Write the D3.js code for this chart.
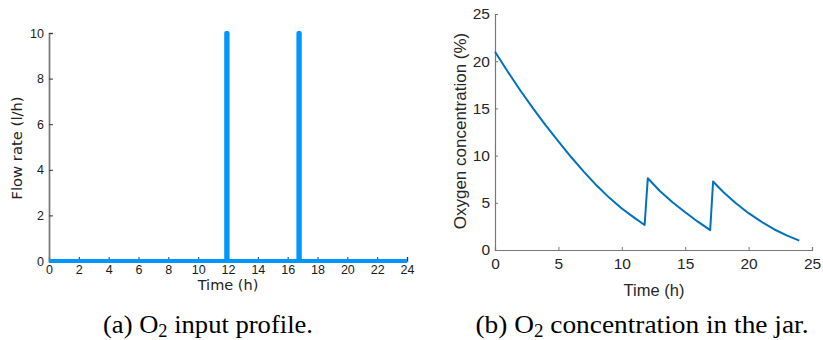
<!DOCTYPE html>
<html>
<head>
<meta charset="utf-8">
<script src="https://cdn.jsdelivr.net/npm/d3@7"></script>
<style>
	body { margin: 0; background: #fff; }
	svg { display: block; }
</style>
</head>
<body>
<div id="chart"></div>
<script>
(function() {
	"use strict";

	// (a) O2 input profile : flow rate (l/h) against time (h)
	var flowTime  = [0, 11.88, 11.88, 11.97, 11.97, 16.72, 16.72, 16.81, 16.81, 24];
	var flowRate  = [0, 0,     10,    10,    0,     0,     10,    10,    0,     0];
	var flowXTicks = [0, 2, 4, 6, 8, 10, 12, 14, 16, 18, 20, 22, 24];
	var flowYTicks = [0, 2, 4, 6, 8, 10];

	// (b) O2 concentration in the jar (%) against time (h)
	var o2Time = [0, 1, 2, 3, 4, 5, 6, 7, 8, 9, 10, 11, 11.8,
		12.05, 13, 14, 15, 16, 16.97,
		17.2, 18, 19, 20, 21, 22, 23, 24];
	var o2Conc = [21.0, 18.9, 16.9, 15.0, 13.2, 11.5, 9.85, 8.3, 6.85, 5.55, 4.4, 3.4, 2.65,
		7.6, 6.25, 5.05, 4.0, 3.0, 2.1,
		7.25, 6.15, 4.95, 3.9, 3.0, 2.2, 1.55, 1.0];
	var o2XTicks = [0, 5, 10, 15, 20, 25];
	var o2YTicks = [0, 5, 10, 15, 20, 25];

	var w = 823;
	var h = 340;

	var svg = d3.select("#chart").append("svg")
		.attr("width", w)
		.attr("height", h);

	/* ---------- left panel ---------- */
	var xa = d3.scaleLinear().domain([0, 24]).range([49, 407]);
	var ya = d3.scaleLinear().domain([0, 10]).range([261, 33]);

	var left = svg.append("g")
		.attr("font-family", "'DejaVu Sans', sans-serif")
		.attr("fill", "#222");

	var lxAxis = left.append("g")
		.attr("transform", "translate(0," + ya(0) + ")")
		.call(d3.axisBottom(xa).tickValues(flowXTicks).tickSize(-4).tickPadding(4));
	lxAxis.select(".domain").attr("stroke", "#666").attr("stroke-width", 1.5);
	lxAxis.selectAll(".tick line").attr("stroke", "#333");
	lxAxis.selectAll("text").attr("font-size", 12.5).attr("fill", "#1a1a1a");

	var lyAxis = left.append("g")
		.attr("transform", "translate(" + xa(0) + ",0)")
		.call(d3.axisLeft(ya).tickValues(flowYTicks).tickSize(-4).tickPadding(5));
	lyAxis.select(".domain").attr("stroke", "#777").attr("stroke-width", 1.7);
	lyAxis.selectAll(".tick line").attr("stroke", "#333");
	lyAxis.selectAll("text").attr("font-size", 12.5).attr("fill", "#1a1a1a");

	var flowData = flowTime.map(function(t, i) { return [t, flowRate[i]]; });

	left.append("path")
		.datum(flowData)
		.attr("fill", "none")
		.attr("stroke", "#0096fa")
		.attr("stroke-width", 4)
		.attr("stroke-linejoin", "round")
		.attr("d", d3.line()
			.x(function(d) { return xa(d[0]); })
			.y(function(d) { return ya(d[1]); }));

	left.append("text")
		.attr("x", 228)
		.attr("y", 290)
		.attr("text-anchor", "middle")
		.attr("font-size", 14.5)
		.text("Time (h)");

	left.append("text")
		.attr("transform", "translate(21.5,148) rotate(-90)")
		.attr("text-anchor", "middle")
		.attr("font-size", 14.8)
		.text("Flow rate (l/h)");

	/* ---------- right panel ---------- */
	var xb = d3.scaleLinear().domain([0, 25]).range([495, 812]);
	var yb = d3.scaleLinear().domain([0, 25]).range([250, 14]);

	var right = svg.append("g")
		.attr("font-family", "'Liberation Sans', Arial, sans-serif")
		.attr("fill", "#262626");

	var rxAxis = right.append("g")
		.attr("transform", "translate(0," + yb(0) + ")")
		.call(d3.axisBottom(xb).tickValues(o2XTicks).tickSize(-3).tickPadding(8).tickFormat(d3.format("d")));
	var ryAxis = right.append("g")
		.attr("transform", "translate(" + xb(0) + ",0)")
		.call(d3.axisLeft(yb).tickValues(o2YTicks).tickSize(-3).tickPadding(5).tickFormat(d3.format("d")));

	[rxAxis, ryAxis].forEach(function(a) {
		a.select(".domain").attr("stroke", "#777").attr("stroke-width", 1.2);
		a.selectAll(".tick line").attr("stroke", "#777");
		a.selectAll("text").attr("font-size", 15.5).attr("fill", "#262626");
	});

	var o2Data = o2Time.map(function(t, i) { return [t, o2Conc[i]]; });

	right.append("path")
		.datum(o2Data)
		.attr("fill", "none")
		.attr("stroke", "#0072bd")
		.attr("stroke-width", 2)
		.attr("stroke-linejoin", "round")
		.attr("d", d3.line()
			.x(function(d) { return xb(d[0]); })
			.y(function(d) { return yb(d[1]); }));

	right.append("text")
		.attr("x", 654)
		.attr("y", 296)
		.attr("text-anchor", "middle")
		.attr("font-size", 16.5)
		.text("Time (h)");

	right.append("text")
		.attr("transform", "translate(466,131) rotate(-90)")
		.attr("text-anchor", "middle")
		.attr("font-size", 17)
		.text("Oxygen concentration (%)");

	/* ---------- captions ---------- */
	var captions = [
		{ x: 208, pre: "(a) O", post: " input profile.", len: 210 },
		{ x: 642, pre: "(b) O", post: " concentration in the jar.", len: 333 }
	];

	captions.forEach(function(c) {
		var t = svg.append("text")
			.attr("x", c.x)
			.attr("y", 333)
			.attr("text-anchor", "middle")
			.attr("font-family", "'Liberation Serif', 'DejaVu Serif', serif")
			.attr("font-size", 26)
			.attr("fill", "#000")
			.attr("textLength", c.len)
			.attr("lengthAdjust", "spacingAndGlyphs");
		t.append("tspan").text(c.pre);
		t.append("tspan").attr("font-size", 18).attr("dy", 4).text("2");
		t.append("tspan").attr("dy", -4).text(c.post);
	});
}());
</script>
</body>
</html>
